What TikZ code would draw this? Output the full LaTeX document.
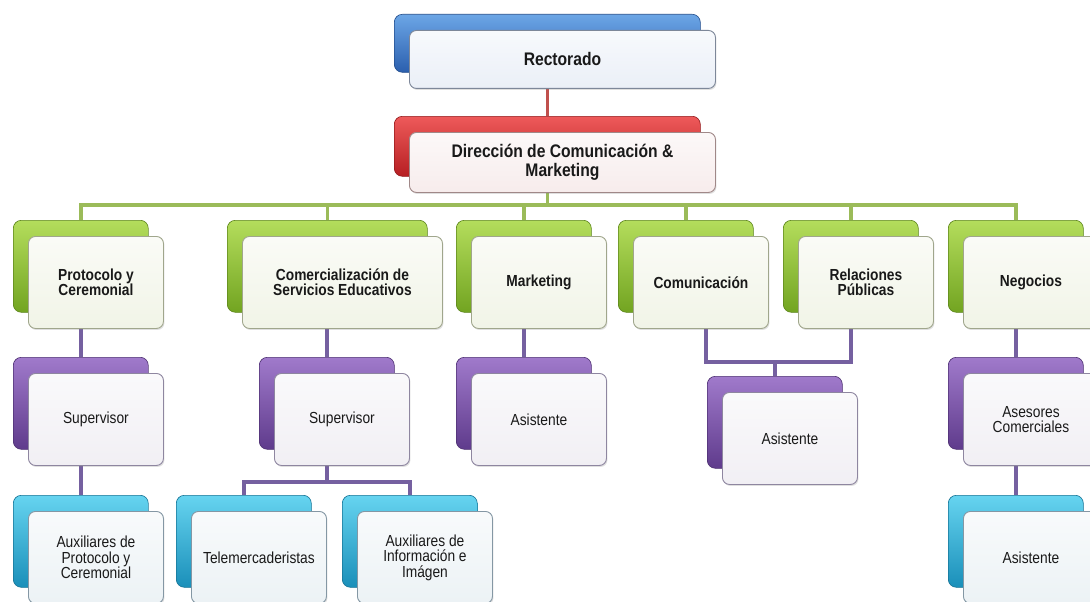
\documentclass[tikz,border=0pt]{standalone}
\usepackage{fontspec}
\setmainfont{Liberation Sans}[FakeStretch=0.86]
\usetikzlibrary{shadows,backgrounds}

% palettes: T = top of back card, B = bottom of back card, F = front card, E = front card edge
\definecolor{blueT}{HTML}{6CA6E6}\definecolor{blueB}{HTML}{2B5FAE}\definecolor{blueF}{HTML}{EAEFF7}\definecolor{blueE}{HTML}{7D8799}
\definecolor{redT}{HTML}{EE5A5A}\definecolor{redB}{HTML}{B61F22}\definecolor{redF}{HTML}{F7ECEC}\definecolor{redE}{HTML}{A08888}
\definecolor{greenT}{HTML}{B4DD5C}\definecolor{greenB}{HTML}{72A421}\definecolor{greenF}{HTML}{F1F4E7}\definecolor{greenE}{HTML}{A0A68C}
\definecolor{purpleT}{HTML}{A07ACB}\definecolor{purpleB}{HTML}{5F3B8C}\definecolor{purpleF}{HTML}{F1EFF4}\definecolor{purpleE}{HTML}{8E86A0}
\definecolor{cyanT}{HTML}{66D4F0}\definecolor{cyanB}{HTML}{1A8FB9}\definecolor{cyanF}{HTML}{ECF2F5}\definecolor{cyanE}{HTML}{8497A4}
\definecolor{redLink}{HTML}{C0504D}
\definecolor{greenLink}{HTML}{9BBB59}
\definecolor{purpleLink}{HTML}{7560A0}

\tikzset{
  backbox/.style={rounded corners=8pt, top color=#1T, bottom color=#1B,
    draw=#1B!80!black, line width=0.6pt, inner sep=0pt},
  frontbox/.style={rounded corners=7pt, top color=#1F!35!white, bottom color=#1F,
    draw=#1E, line width=0.9pt, align=center, inner sep=2pt, text=black!90,
    drop shadow={shadow xshift=1pt, shadow yshift=-1.5pt, opacity=0.25}},
  bigbold/.style={font=\fontsize{18.2}{19}\selectfont\bfseries},
  midbold/.style={font=\fontsize{16}{15.5}\selectfont\bfseries},
  regtext/.style={font=\fontsize{16}{15.5}\selectfont},
  link/.style={line width=3.5pt},
  redline/.style={link, draw=redLink},
  greenline/.style={link, draw=greenLink},
  purpline/.style={link, draw=purpleLink},
}

% a unit: coloured back card with a light card laid over it
% #1 name, #2 x, #3 y (top), #4 width, #5 height, #6 palette, #7 text, #8 text style
\newcommand\orgunit[8]{%
  \node[backbox=#6, minimum width=#4pt, minimum height=#5pt, anchor=north west] (#1B) at (#2,#3) {};
  \node[frontbox=#6, #8, minimum width=#4pt, minimum height=#5pt, anchor=north west]
    (#1F) at ([shift={(15,16)}]#1B.north west) {#7};
}

\begin{document}
\begin{tikzpicture}[x=1pt, y=-1pt]
\useasboundingbox (0,0) rectangle (1090,602);

% top levels
\orgunit{rect}{394}{14}{306}{58}{blue}{Rectorado}{bigbold}
\orgunit{dir}{394}{116}{306}{60}{red}{Dirección de Comunicación \&\\Marketing}{bigbold}

% areas
\orgunit{prot}{13}{220}{135}{92}{green}{Protocolo y\\Ceremonial}{midbold}
\orgunit{comer}{227}{220}{200}{92}{green}{Comercialización de\\Servicios Educativos}{midbold}
\orgunit{mkt}{456}{220}{135}{92}{green}{Marketing}{midbold}
\orgunit{comu}{618}{220}{135}{92}{green}{Comunicación}{midbold}
\orgunit{rel}{783}{220}{135}{92}{green}{Relaciones\\Públicas}{midbold}
\orgunit{neg}{948}{220}{135}{92}{green}{Negocios}{midbold}

% second level staff
\orgunit{supA}{13}{357}{135}{92}{purple}{Supervisor}{regtext}
\orgunit{supB}{259}{357}{135}{92}{purple}{Supervisor}{regtext}
\orgunit{asiM}{456}{357}{135}{92}{purple}{Asistente}{regtext}
\orgunit{asiC}{707}{376}{135}{92}{purple}{Asistente}{regtext}
\orgunit{ases}{948}{357}{135}{92}{purple}{Asesores\\Comerciales}{regtext}

% third level staff
\orgunit{auxP}{13}{495}{135}{92}{cyan}{Auxiliares de\\Protocolo y\\Ceremonial}{regtext}
\orgunit{tele}{176}{495}{135}{92}{cyan}{Telemercaderistas}{regtext}
\orgunit{auxI}{342}{495}{135}{92}{cyan}{Auxiliares de\\Información e\\Imágen}{regtext}
\orgunit{asiN}{948}{495}{135}{92}{cyan}{Asistente}{regtext}

% rails for the branching connectors
\coordinate (gbus) at (0,205);
\coordinate (pbrk) at (0,362);
\coordinate (cbus) at (0,482);
\coordinate (comuOut) at ([xshift=5pt]comuF.south);

\begin{scope}[on background layer]
  \fill[white] (0,0) rectangle (1090,602);
  \draw[redline] (rectF.south -| rectB.north) -- (dirB.north);
  \foreach \nm in {prot,comer,mkt,comu,rel,neg}
    \draw[greenline] (dirF.south -| dirB.north) -- (gbus -| dirB.north) -| (\nm B.north);
  \draw[purpline] (protF.south -| protB.north) -- (supAB.north);
  \draw[purpline] (comerF.south -| supBB.north) -- (supBB.north);
  \draw[purpline] (mktF.south -| mktB.north) -- (asiMB.north);
  \draw[purpline] (comuOut) |- (pbrk -| relB.north) -- (relF.south -| relB.north);
  \draw[purpline] (pbrk -| asiCB.north) -- (asiCB.north);
  \draw[purpline] (negF.south -| negB.north) -- (asesB.north);
  \draw[purpline] (supAF.south -| supAB.north) -- (auxPB.north);
  \draw[purpline] (supBF.south -| supBB.north) -- (cbus -| supBB.north) -| (teleB.north);
  \draw[purpline] (cbus -| supBB.north) -| (auxIB.north);
  \draw[purpline] (asesF.south -| asesB.north) -- (asiNB.north);
\end{scope}
\end{tikzpicture}
\end{document}
